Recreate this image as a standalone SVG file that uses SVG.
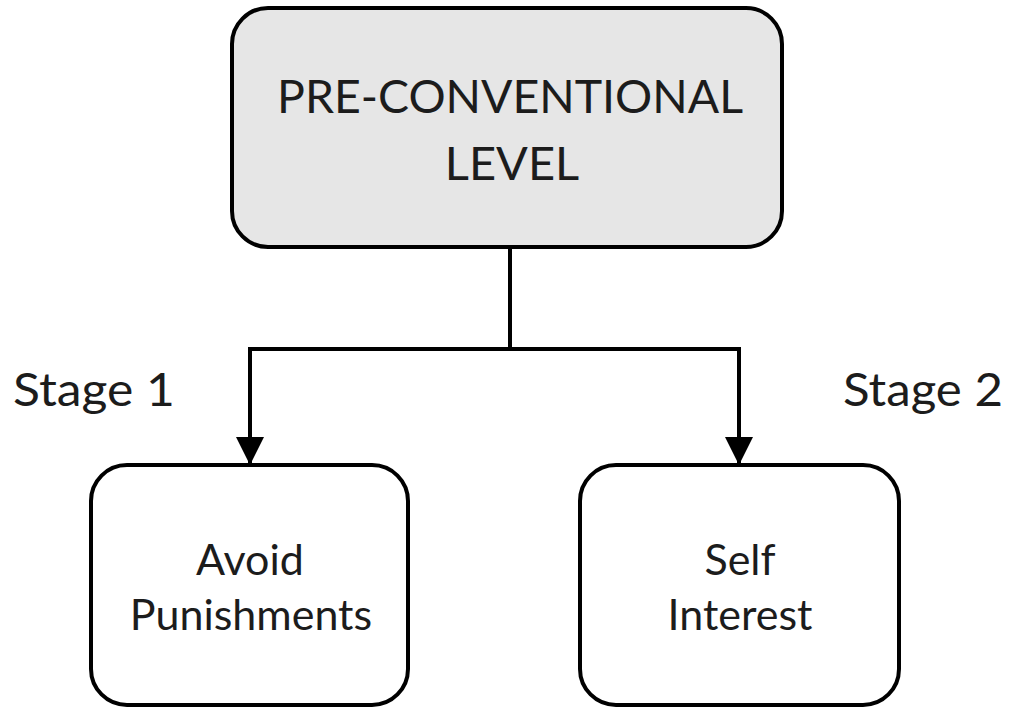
<svg xmlns="http://www.w3.org/2000/svg" width="1010" height="708" viewBox="0 0 1010 708">
<defs>
<style>
.box{stroke:#000;stroke-width:4}
.t{font-family:Lato,"Open Sans","Liberation Sans",sans-serif;fill:#1c1c1c;text-anchor:middle}
.c{stroke:#000;stroke-width:4;fill:none}
</style>
<marker id="ah" markerUnits="userSpaceOnUse" markerWidth="28" markerHeight="30" refX="28" refY="14" orient="auto" viewBox="0 0 28 28">
<path d="M0,0 L28,14 L0,28 Z" fill="#000"/>
</marker>
</defs>
<rect width="1010" height="708" fill="#fff"/>
<g id="top">
<rect class="box" x="232" y="8" width="550" height="239" rx="36" fill="#e6e6e6"/>
<text class="t" x="510" y="113" font-size="47" textLength="466" lengthAdjust="spacingAndGlyphs">PRE-CONVENTIONAL</text>
<text class="t" x="512" y="180" font-size="47">LEVEL</text>
</g>
<g id="connectors">
<path class="c" d="M510,247 V349"/>
<path class="c" d="M250,349 H739"/>
<path class="c" d="M250,347 V465" marker-end="url(#ah)"/>
<path class="c" d="M739,347 V465" marker-end="url(#ah)"/>
</g>
<g id="stage1">
<text class="t" x="94" y="406" font-size="46" textLength="162" lengthAdjust="spacingAndGlyphs">Stage 1</text>
</g>
<g id="stage2">
<text class="t" x="923" y="406" font-size="46" textLength="160" lengthAdjust="spacingAndGlyphs">Stage 2</text>
</g>
<g id="avoid">
<rect class="box" x="91" y="465" width="317" height="240" rx="36" fill="#fff"/>
<text class="t" x="250" y="575" font-size="43">Avoid</text>
<text class="t" x="251" y="630" font-size="43">Punishments</text>
</g>
<g id="self">
<rect class="box" x="580" y="465" width="319" height="240" rx="36" fill="#fff"/>
<text class="t" x="740" y="575" font-size="43">Self</text>
<text class="t" x="740" y="630" font-size="43">Interest</text>
</g>
</svg>
